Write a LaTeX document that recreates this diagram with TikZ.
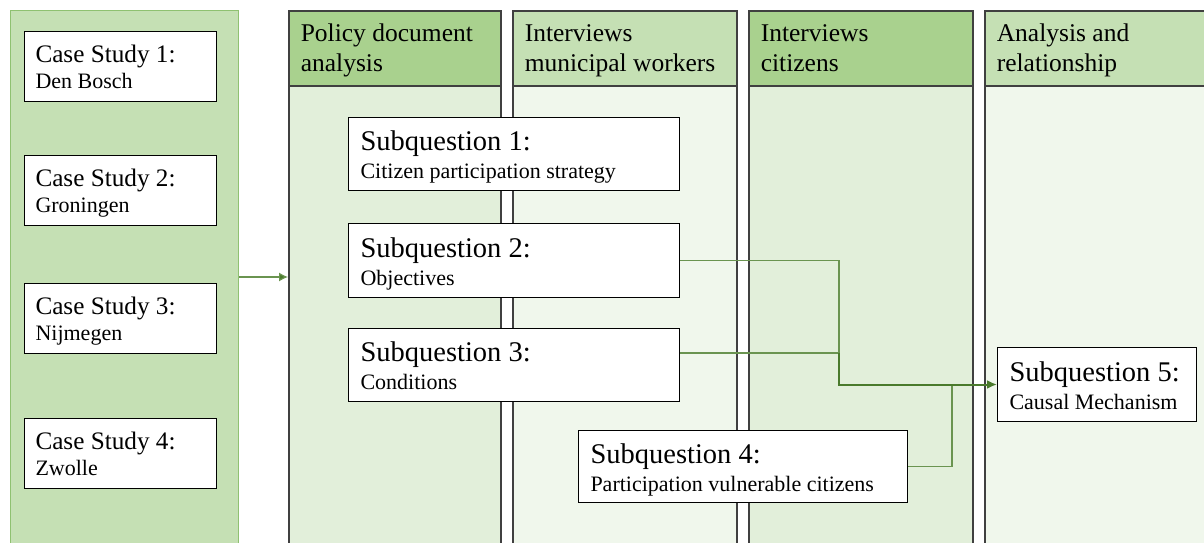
\documentclass[tikz,border=0pt]{standalone}
\usepackage{fontspec}
\setmainfont{Liberation Serif}
\usepackage{tikz}
\usetikzlibrary{arrows.meta,positioning}

\definecolor{headdark}{HTML}{A9D18E}
\definecolor{headlight}{HTML}{C5E0B4}
\definecolor{bodydark}{HTML}{E2EFDA}
\definecolor{bodylight}{HTML}{F0F7EC}
\definecolor{casegreen}{HTML}{C5E0B4}
\definecolor{caseedge}{HTML}{8FC171}
\definecolor{linkgreen}{HTML}{6A9450}
\definecolor{flowgreen}{HTML}{4A7A2C}
\definecolor{lanerule}{HTML}{404040}

% second, smaller line inside a box
\newcommand{\smallline}[1]{{\fontsize{22}{26}\selectfont #1}}
% struts keep the first baseline at the same height in every box
\newcommand{\boxstart}[1]{\spaceskip=0pt\relax\rule{0pt}{#1}}
\newcommand{\boxend}{\rule[-5pt]{0pt}{0pt}}

\begin{document}
\begin{tikzpicture}[x=1pt, y=-1pt, every node/.append style={inner sep=0pt, anchor=north west}]
  \tikzstyle{lane} = [draw=lanerule, line width=1.6pt, rectangle]
  \tikzstyle{header} = [lane, minimum height=75pt, inner xsep=12pt, align=left,
    font=\fontsize{25.5}{30}\selectfont,
    execute at begin node=\boxstart{22pt}, execute at end node=\boxend]
  \tikzstyle{casebox} = [draw=black, fill=white, line width=1pt, text width=170pt,
    inner xsep=11pt, minimum height=70pt, align=left, font=\fontsize{25.2}{26}\selectfont,
    execute at begin node=\boxstart{23pt}, execute at end node=\boxend]
  \tikzstyle{subbox} = [draw=black, fill=white, line width=1pt, inner xsep=12pt,
    minimum height=73pt, align=left, font=\fontsize{28.5}{28}\selectfont,
    execute at begin node=\boxstart{26pt}, execute at end node=\boxend]
  \tikzstyle{link} = [draw=linkgreen, line width=1.2pt]
  \tikzstyle{flow} = [draw=flowgreen, line width=2pt, -{Latex[length=10pt,width=9pt]}]

  \useasboundingbox (0,0) rectangle (1204,543);

  % case studies
  \node (cases) [draw=caseedge, line width=1pt, fill=casegreen, minimum width=228pt, minimum height=560pt] at (10,10) {};
  \node (cs1) [casebox] at (24,31) {Case Study 1:\\\smallline{Den Bosch}};
  \node (cs2) [casebox] at (24,155) {Case Study 2:\\\smallline{Groningen}};
  \node (cs3) [casebox] at (24,283) {Case Study 3:\\\smallline{Nijmegen}};
  \node (cs4) [casebox] at (24,418) {Case Study 4:\\\smallline{Zwolle}};

  % method lanes
  \node (b1) [lane, fill=bodydark, minimum width=212pt, minimum height=480pt] at (288,85) {};
  \node (b2) [lane, fill=bodylight, minimum width=224pt, minimum height=480pt] at (512,85) {};
  \node (b3) [lane, fill=bodydark, minimum width=224pt, minimum height=480pt] at (748,85) {};
  \node (b4) [lane, fill=bodylight, minimum width=240pt, minimum height=480pt] at (984,85) {};
  \node (h1) [header, fill=headdark, text width=188pt] at (288,10) {Policy document\\analysis};
  \node (h2) [header, fill=headlight, text width=200pt] at (512,10) {Interviews\\municipal workers};
  \node (h3) [header, fill=headdark, text width=200pt] at (748,10) {Interviews\\citizens};
  \node (h4) [header, fill=headlight, text width=216pt] at (984,10) {Analysis and\\relationship};

  % subquestions
  \node (sq1) [subbox, text width=307pt] at (348,117) {Subquestion 1:\\\smallline{Citizen participation strategy}};
  \node (sq2) [subbox, text width=307pt, minimum height=74pt] at (348,223) {Subquestion 2:\\\smallline{Objectives}};
  \node (sq3) [subbox, text width=307pt] at (348,328) {Subquestion 3:\\\smallline{Conditions}};
  \node (sq4) [subbox, text width=305pt, minimum height=72pt] at (578,430) {Subquestion 4:\\\smallline{Participation vulnerable citizens}};
  \node (sq5) [subbox, text width=175pt, minimum height=74pt] at (997,347) {Subquestion 5:\\\smallline{Causal Mechanism}};

  % connectors
  \coordinate (arr) at (0,277);
  \coordinate (merge) at (839,353);
  \draw[link, -{Latex[length=9pt,width=9pt,fill=flowgreen]}] (cases.east |- arr) -- (b1.west |- arr);
  \draw[link] (sq2.east) -| (merge);
  \draw[link] (sq3.east |- merge) -- (merge);
  \draw[link] (sq4.east) -| ([xshift=-45pt]sq5.west);
  \draw[flow] (merge) |- (sq5.west);
\end{tikzpicture}
\end{document}
